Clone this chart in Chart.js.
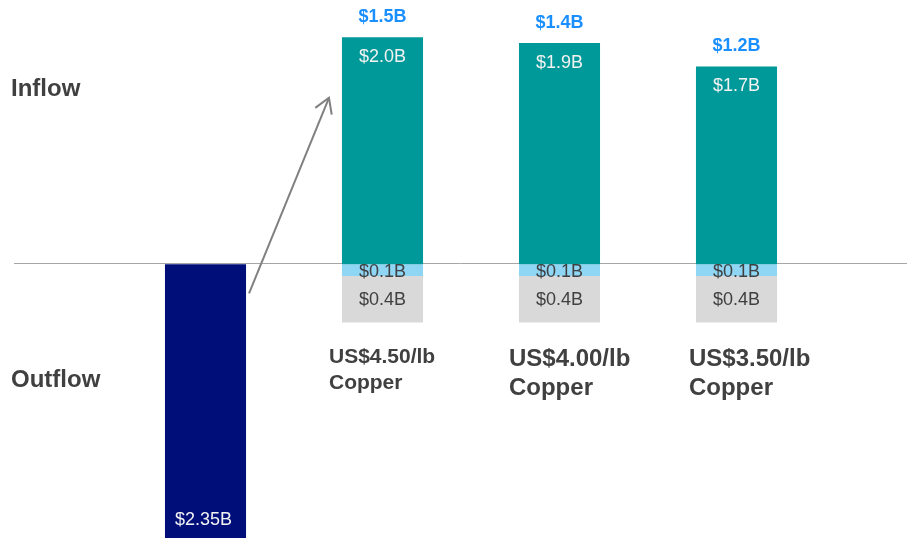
<!DOCTYPE html>
<html>
<head>
<meta charset="utf-8">
<script src="https://cdn.jsdelivr.net/npm/chart.js@4"></script>
<style>
  html, body { margin: 0; padding: 0; background: #fff; }
  canvas { display: block; }
</style>
</head>
<body>
<canvas id="chart" width="907" height="538"></canvas>
<script>
// categories: first is the outflow, then the three copper price cases
const categories = ["", "US$4.50/lb|Copper", "US$4.00/lb|Copper", "US$3.50/lb|Copper"];

const outflow = [-2.35, null, null, null];
const inflow = [null, 1.95, 1.9, 1.7];
const outflowSmall = [null, -0.1, -0.1, -0.1];
const outflowOther = [null, -0.4, -0.4, -0.4];

const outflowLabels = ["$2.35B", "", "", ""];
const inflowLabels = ["", "$2.0B", "$1.9B", "$1.7B"];
const netLabels = ["", "$1.5B", "$1.4B", "$1.2B"];
const smallLabels = ["", "$0.1B", "$0.1B", "$0.1B"];
const otherLabels = ["", "$0.4B", "$0.4B", "$0.4B"];

const FONT = "'Liberation Sans', Arial, sans-serif";

const decor = {
    id: "decor",
    beforeDatasetsDraw(chart) {
        const { ctx, scales: { y } } = chart;
        const y0 = y.getPixelForValue(0);
        ctx.save();
        ctx.strokeStyle = "#a6a6a6";
        ctx.lineWidth = 1;
        ctx.beginPath();
        ctx.moveTo(14, Math.round(y0) - 0.5);
        ctx.lineTo(907, Math.round(y0) - 0.5);
        ctx.stroke();
        ctx.restore();
    },
    afterDatasetsDraw(chart) {
        const { ctx, scales: { y } } = chart;
        ctx.save();
        ctx.textAlign = "center";
        ctx.textBaseline = "middle";

        const bars = (i) => chart.getDatasetMeta(i).data;

        // outflow bar label at bottom
        bars(0).forEach((b, i) => {
            if (!outflowLabels[i]) return;
            ctx.fillStyle = "#f2f2f2";
            ctx.font = "18px " + FONT;
            ctx.fillText(outflowLabels[i], b.x - 2, Math.max(b.y, b.base) - 18);
        });

        bars(1).forEach((b, i) => {
            if (!inflowLabels[i]) return;
            ctx.fillStyle = "#f2f2f2";
            ctx.font = "18px " + FONT;
            ctx.fillText(inflowLabels[i], b.x, b.y + 20);
            ctx.fillStyle = "#1a8fff";
            ctx.font = "bold 18px " + FONT;
            ctx.fillText(netLabels[i], b.x, b.y - 20);
        });

        bars(2).forEach((b, i) => {
            if (!smallLabels[i]) return;
            ctx.fillStyle = "#404040";
            ctx.font = "18px " + FONT;
            ctx.fillText(smallLabels[i], b.x, (b.y + b.base) / 2 + 1.5);
        });

        bars(3).forEach((b, i) => {
            if (!otherLabels[i]) return;
            ctx.fillStyle = "#404040";
            ctx.font = "18px " + FONT;
            ctx.fillText(otherLabels[i], b.x, (b.y + b.base) / 2 + 1);
        });

        // category labels under the stacks
        ctx.textAlign = "left";
        ctx.fillStyle = "#404040";
        const catSize = [0, 21, 24, 24];
        const catShift = [0, -13, -10, -7];
        const catTop = [0, 357, 359, 359];
        const catGap = [0, 26, 29, 29];
        bars(1).forEach((b, i) => {
            if (!categories[i]) return;
            const lines = categories[i].split("|");
            const left = b.x - b.width / 2 + catShift[i];
            ctx.font = "bold " + catSize[i] + "px " + FONT;
            lines.forEach((t, k) => ctx.fillText(t, left, catTop[i] + k * catGap[i]));
        });

        // side labels
        ctx.font = "bold 24px " + FONT;
        ctx.fillText("Inflow", 11, 89);
        ctx.fillText("Outflow", 11, 380);

        // arrow from outflow bar to first inflow bar
        const b0 = bars(0)[0];
        const b1 = bars(1)[1];
        const sx = b0.x + b0.width / 2 + 3, sy = y.getPixelForValue(-0.25);
        const ex = b1.x - b1.width / 2 - 13, ey = y.getPixelForValue(1.43);
        ctx.strokeStyle = "#808080";
        ctx.lineWidth = 2;
        ctx.beginPath();
        ctx.moveTo(sx, sy);
        ctx.lineTo(ex, ey);
        ctx.stroke();
        const ang = Math.atan2(ey - sy, ex - sx);
        const len = 17, spread = 0.55;
        ctx.beginPath();
        ctx.moveTo(ex - len * Math.cos(ang - spread), ey - len * Math.sin(ang - spread));
        ctx.lineTo(ex, ey);
        ctx.lineTo(ex - len * Math.cos(ang + spread), ey - len * Math.sin(ang + spread));
        ctx.stroke();
        ctx.restore();
    }
};

new Chart(document.getElementById("chart"), {
    type: "bar",
    data: {
        labels: categories,
        datasets: [
            { data: outflow, backgroundColor: "#000e7a" },
            { data: inflow, backgroundColor: "#009999" },
            { data: outflowSmall, backgroundColor: "#8fd6f5" },
            { data: outflowOther, backgroundColor: "#d9d9d9" },
        ],
    },
    options: {
        responsive: false,
        animation: false,
        layout: { padding: { left: 117, right: 82, top: 0, bottom: 0 } },
        datasets: { bar: { categoryPercentage: 1, barPercentage: 0.458, borderWidth: 0 } },
        plugins: { legend: { display: false }, tooltip: { enabled: false } },
        scales: {
            x: { stacked: true, display: false },
            y: { stacked: true, display: false, min: -2.35, max: 2.27 },
        },
    },
    plugins: [decor],
});
</script>
</body>
</html>
